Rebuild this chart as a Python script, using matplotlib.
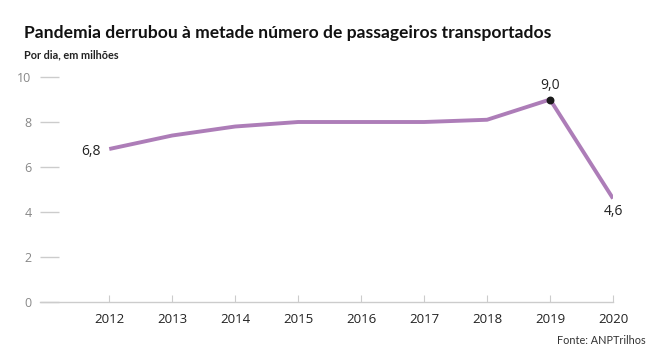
import matplotlib.pyplot as plt

# Data
years = [2012, 2013, 2014, 2015, 2016, 2017, 2018, 2019, 2020]
passengers = [6.8, 7.4, 7.8, 8.0, 8.0, 8.0, 8.1, 9.0, 4.6]
y_ticks = [0, 2, 4, 6, 8, 10]

line_colour = "#ad7db8"

fig = plt.figure(figsize=(6.63, 3.6), dpi=100)
ax = fig.add_axes([0.0603, 0.1611, 0.8643, 0.625])

ax.plot(years, passengers, color=line_colour, linewidth=2.8, solid_capstyle="butt", zorder=3)
ax.scatter([years[7]], [passengers[7]], color="#1a1a1a", s=22, zorder=4)

# Value labels
ax.annotate("6,8", (years[0], passengers[0]), xytext=(-6, -2), textcoords="offset points",
            ha="right", va="center", fontsize=10, family="Open Sans", color="#222222")
ax.annotate("9,0", (years[7], passengers[7]), xytext=(0, 5), textcoords="offset points",
            ha="center", va="bottom", fontsize=10, family="Open Sans", color="#222222")
ax.annotate("4,6", (years[8], passengers[8]), xytext=(0, -4), textcoords="offset points",
            ha="center", va="top", fontsize=10, family="Open Sans", color="#222222")

ax.set_xlim(2010.9, 2020)
ax.set_ylim(0, 10)

for s in ["top", "right", "left"]:
    ax.spines[s].set_visible(False)
ax.spines["bottom"].set_color("#cccccc")
ax.spines["bottom"].set_linewidth(1)

ax.set_xticks(years)
ax.set_xticklabels([str(y) for y in years], fontsize=9.5, family="Open Sans", color="#222222")
ax.tick_params(axis="x", direction="in", length=5, color="#cccccc", pad=8)

ax.set_yticks(y_ticks)
ax.set_yticklabels([str(v) for v in y_ticks], fontsize=9, family="Open Sans", color="#888888")
ax.tick_params(axis="y", direction="in", length=14, color="#cccccc", pad=6, width=1)

# Titles
fig.text(24 / 663, 1 - 33 / 360, "Pandemia derrubou à metade número de passageiros transportados",
         fontsize=12.6, fontweight="bold", family="Lato", color="#111111", va="center")
fig.text(24 / 663, 1 - 55 / 360, "Por dia, em milhões",
         fontsize=7.8, fontweight="bold", family="Lato", color="#222222", va="center")
fig.text(646 / 663, 1 - 341 / 360, "Fonte: ANPTrilhos",
         fontsize=7.8, family="Lato", color="#333333", ha="right", va="center")

plt.savefig("out.png", dpi=100)
